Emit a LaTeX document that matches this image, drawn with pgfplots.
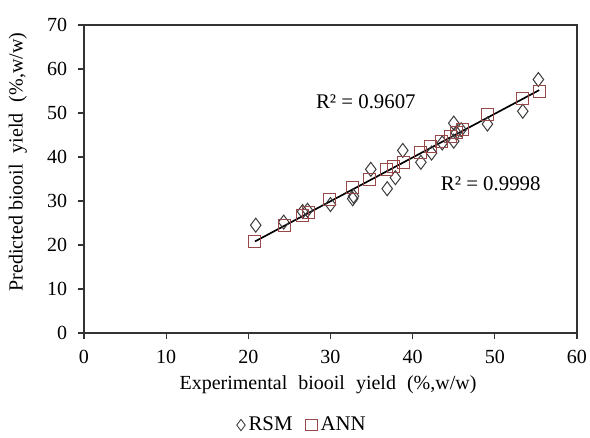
\documentclass[border=0pt]{standalone}
\usepackage{fontspec}
\setmainfont{Liberation Serif}
\usepackage{pgfplots}
\pgfplotsset{compat=1.18}
\usepackage{pgfplotstable}

\definecolor{rsmcol}{HTML}{3A3A3A}
\definecolor{anncol}{HTML}{984848}

% experimental vs predicted yield
\pgfplotstableread{
x y
20.9 24.5
24.3 25.2
26.6 27.6
27.2 27.9
30.0 29.2
32.7 30.5
32.8 31.1
34.9 37.2
36.9 32.8
37.9 35.3
38.8 41.5
41.0 38.8
42.3 40.9
43.6 43.2
45.0 47.7
45.0 43.6
45.3 45.5
45.9 46.2
49.1 47.5
53.4 50.4
55.3 57.6
}\rsm

\pgfplotstableread{
x y
20.8 20.9
24.4 24.5
26.6 26.7
27.3 27.3
29.9 30.4
32.7 33.0
34.8 34.9
36.8 37.2
37.7 37.9
38.9 38.7
41.0 41.1
42.2 42.4
43.5 43.6
44.6 44.7
45.3 45.5
46.1 46.2
49.1 49.6
53.4 53.4
55.4 54.9
}\ann

\begin{document}
\begin{tikzpicture}
\def\fs{\fontsize{12}{14}\selectfont}
\def\gap{\hspace{0.55em}}
\begin{axis}[
  scale only axis,
  width=295.8pt, height=184.8pt,
  xmin=0, xmax=60, ymin=0, ymax=70,
  xtick={0,10,...,60}, ytick={0,10,...,70},
  tick align=outside,
  tick pos=left,
  major tick length=3.6pt,
  axis line style={line width=0.7pt, draw=black!80},
  tick style={line width=0.7pt, draw=black!80},
  /pgf/number format/assume math mode=true,
  ticklabel style={font=\fs},
  xticklabel style={yshift=-3pt},
  yticklabel style={xshift=-3pt},
  label style={font=\fs},
  xlabel={Experimental\gap biooil\gap yield\gap (\%,w/w)},
  ylabel={Predicted biooil\gap yield\gap (\%,w/w)},
  xlabel style={at={(axis description cs:0.495,-0.169)}, anchor=center},
  ylabel style={at={(axis description cs:-0.134,0.555)}, anchor=center},
  legend columns=2,
  legend style={draw=none, fill=none, at={(0.444,-0.299)}, anchor=center,
    font=\fontsize{12.5}{14}\selectfont, inner sep=0pt,
    /tikz/every even column/.append style={column sep=6pt}},
  legend image code/.code={\draw[mark repeat=2,mark phase=2,mark size=3.4pt,line width=0.5pt] plot coordinates {(0cm,0cm) (0.14cm,0cm) (0.28cm,0cm)};},
]
\addplot[only marks, mark=diamond, mark size=4.2pt, draw=rsmcol, line width=0.6pt] table {\rsm};
\addlegendentry{RSM}
\addplot[only marks, mark=square, mark size=3.6pt, draw=anncol, line width=0.6pt] table {\ann};
\addlegendentry{ANN}
\addplot[black, line width=1pt, forget plot] coordinates {(20.8,20.8) (55.4,55.2)};
\node[font=\fontsize{12.5}{14}\selectfont] at (axis cs:34.3,52.5) {R² = 0.9607};
\node[font=\fontsize{12.5}{14}\selectfont] at (axis cs:49.5,33.9) {R² = 0.9998};
\end{axis}
\pgfresetboundingbox
\useasboundingbox (-50.4pt,-63pt) rectangle (303.6pt,199.8pt);
\end{tikzpicture}
\end{document}
